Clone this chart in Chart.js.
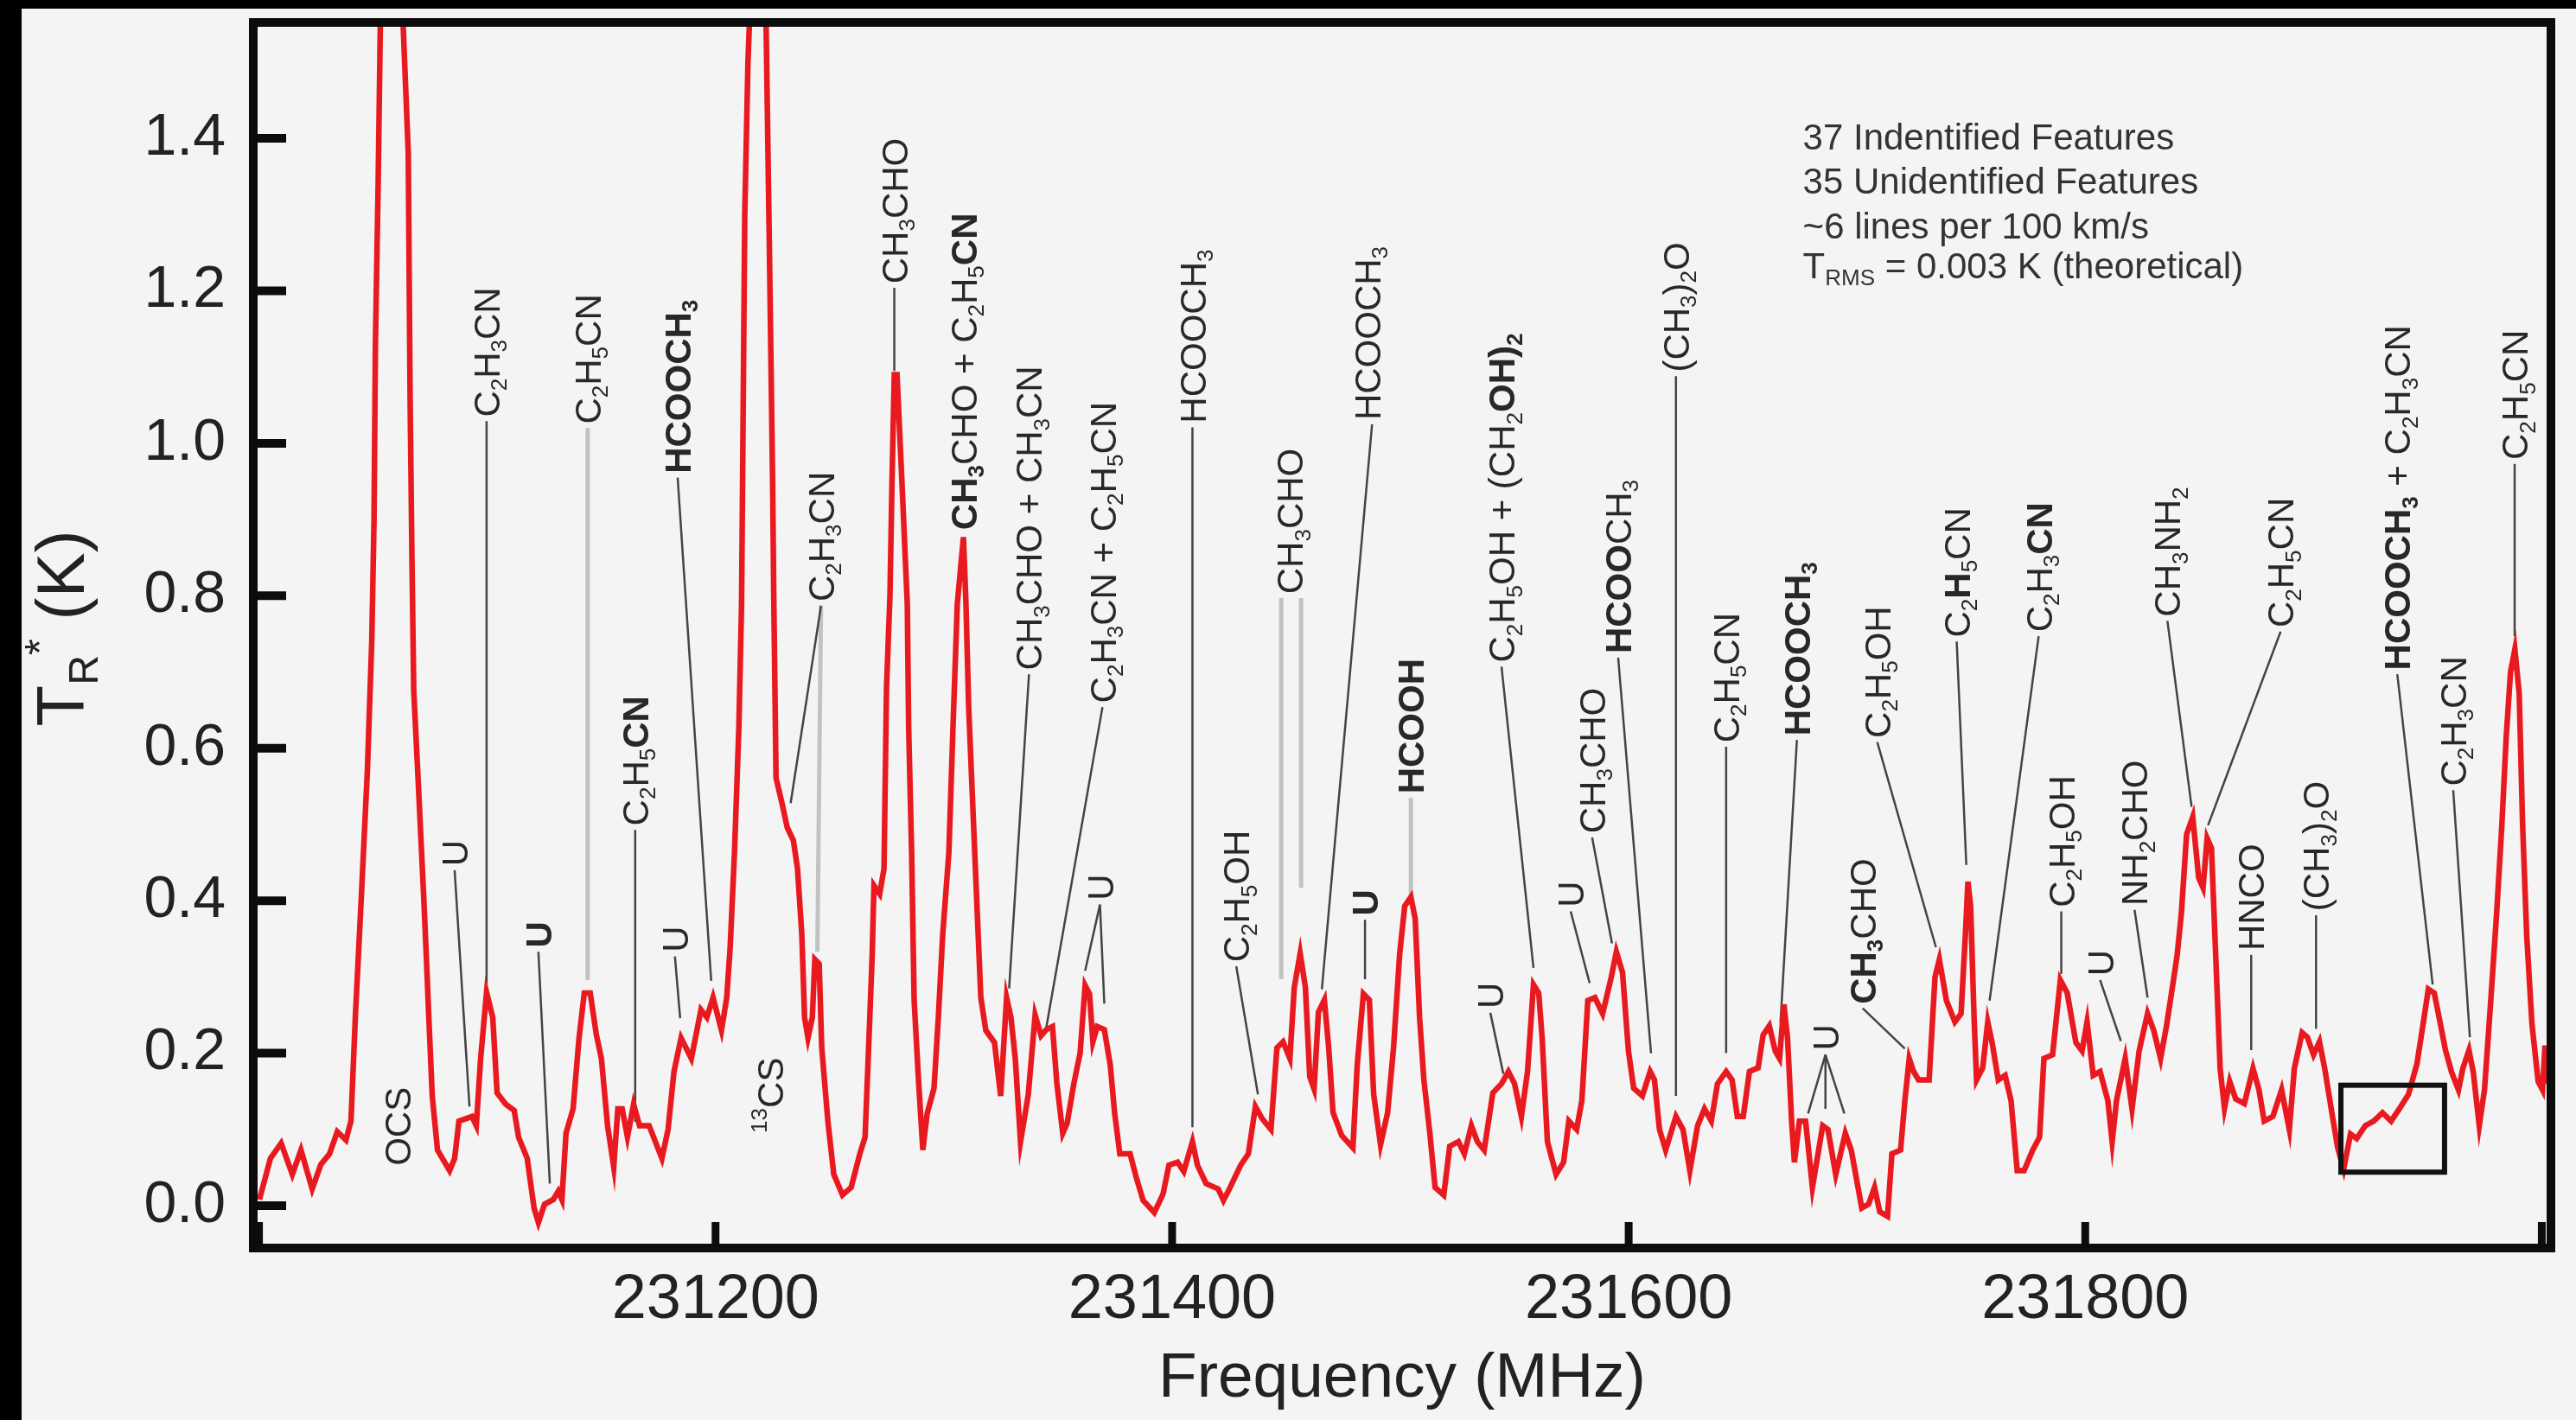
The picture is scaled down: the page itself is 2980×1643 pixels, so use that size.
<!DOCTYPE html>
<html>
<head>
<meta charset="utf-8">
<script src="https://cdn.jsdelivr.net/npm/chart.js@4.4.1/dist/chart.umd.min.js"></script>
<style>
  html, body { margin: 0; padding: 0; background: #f4f4f4; }
  canvas { display: block; }
</style>
</head>
<body>
<canvas id="spectrum" width="2980" height="1643"></canvas>
<script>
// spectrum (MHz, K)
const freqMHz = [
  231000.2, 231005.0, 231009.7, 231014.6, 231018.4, 231023.3, 231027.1, 231030.9, 231034.3, 231038.1,
  231040.3, 231042.2, 231044.9, 231047.5, 231049.4, 231050.4, 231051.0, 231052.2, 231053.2, 231058.0,
  231063.0, 231065.4, 231066.2, 231067.0, 231067.8, 231069.5, 231072.1, 231073.3, 231074.4, 231075.9,
  231078.2, 231083.5, 231085.7, 231087.6, 231093.3, 231095.2, 231097.1, 231099.7, 231102.4, 231104.3,
  231108.1, 231111.8, 231113.7, 231117.5, 231120.5, 231122.4, 231125.1, 231128.9, 231131.1, 231132.7,
  231134.5, 231137.6, 231140.2, 231142.5, 231145.1, 231147.8, 231150.0, 231152.7, 231155.4, 231157.2,
  231159.1, 231161.4, 231164.1, 231166.7, 231170.9, 231176.5, 231179.2, 231181.8, 231184.9, 231189.4,
  231193.6, 231196.2, 231198.9, 231202.6, 231204.9, 231206.4, 231208.3, 231210.2, 231211.4, 231212.8,
  231214.2, 231215.2, 231219.0, 231222.0, 231223.8, 231225.0, 231225.5, 231226.5, 231229.1, 231231.4,
  231234.1, 231235.9, 231237.8, 231239.0, 231240.5, 231242.4, 231243.5, 231245.4, 231246.5, 231249.2,
  231251.8, 231255.6, 231259.4, 231263.2, 231265.5, 231267.0, 231268.6, 231269.4, 231271.9, 231273.8,
  231274.9, 231276.4, 231277.3, 231278.3, 231279.5, 231281.7, 231284.0, 231284.6, 231285.9, 231287.0,
  231288.9, 231290.8, 231292.7, 231295.7, 231297.6, 231299.5, 231302.2, 231304.0, 231305.9, 231308.6,
  231309.7, 231310.9, 231312.4, 231314.3, 231316.2, 231318.4, 231322.2, 231324.9, 231327.5, 231329.4,
  231331.3, 231333.6, 231337.0, 231340.0, 231342.6, 231344.9, 231347.6, 231349.5, 231352.1, 231354.0,
  231357.0, 231359.7, 231361.9, 231363.8, 231365.3, 231367.2, 231370.3, 231372.9, 231374.8, 231377.1,
  231381.6, 231384.3, 231387.3, 231392.2, 231396.0, 231398.6, 231402.4, 231405.1, 231408.9, 231411.1,
  231414.9, 231420.2, 231422.5, 231425.1, 231430.0, 231433.4, 231436.5, 231439.5, 231443.3, 231445.9,
  231448.6, 231451.6, 231453.5, 231456.1, 231458.4, 231460.3, 231462.2, 231464.1, 231466.7, 231468.6,
  231470.5, 231474.3, 231479.2, 231481.1, 231483.8, 231486.4, 231488.3, 231491.3, 231494.4, 231497.0,
  231499.7, 231501.9, 231504.6, 231506.5, 231508.4, 231510.3, 231512.9, 231515.2, 231519.0, 231521.6,
  231525.4, 231528.0, 231531.1, 231533.7, 231536.7, 231540.5, 231544.3, 231547.3, 231550.0, 231553.0,
  231555.7, 231558.3, 231560.6, 231562.1, 231564.4, 231568.2, 231571.5, 231573.8, 231577.2, 231579.5,
  231582.1, 231585.2, 231588.6, 231592.4, 231594.6, 231597.3, 231599.9, 231602.2, 231606.0, 231609.4,
  231611.3, 231613.5, 231616.2, 231620.7, 231623.8, 231626.8, 231630.2, 231633.2, 231636.2, 231638.9,
  231642.7, 231645.3, 231647.6, 231650.2, 231652.9, 231656.7, 231658.9, 231661.6, 231664.2, 231666.1,
  231668.0, 231669.6, 231671.4, 231672.6, 231674.8, 231677.5, 231680.5, 231685.0, 231687.3, 231690.7,
  231694.9, 231697.5, 231702.1, 231705.1, 231707.7, 231710.0, 231713.4, 231715.3, 231719.1, 231721.0,
  231722.9, 231724.8, 231727.0, 231731.6, 231734.2, 231736.1, 231739.2, 231742.9, 231745.6, 231747.5,
  231748.6, 231749.8, 231751.3, 231752.4, 231755.1, 231757.3, 231759.2, 231761.9, 231764.9, 231767.5,
  231770.2, 231773.2, 231777.0, 231780.0, 231781.9, 231785.7, 231789.1, 231792.1, 231795.9, 231798.6,
  231800.8, 231803.5, 231806.5, 231809.9, 231811.8, 231813.7, 231817.5, 231820.5, 231823.6, 231827.3,
  231830.0, 231833.0, 231835.6, 231837.5, 231840.2, 231842.1, 231844.4, 231847.1, 231849.7, 231851.6,
  231853.4, 231855.3, 231857.2, 231859.1, 231861.0, 231863.3, 231865.9, 231869.7, 231873.5, 231876.1,
  231878.4, 231882.2, 231886.0, 231889.4, 231891.6, 231895.0, 231897.3, 231900.0, 231902.6, 231904.9,
  231908.3, 231910.6, 231913.2, 231916.2, 231918.9, 231922.7, 231926.4, 231930.2, 231934.0, 231937.8,
  231941.6, 231945.3, 231948.0, 231950.3, 231952.9, 231955.6, 231957.8, 231960.5, 231963.5, 231965.4,
  231968.1, 231970.0, 231972.6, 231974.9, 231977.6, 231980.2, 231982.5, 231984.4, 231986.3, 231988.2,
  231990.1, 231991.6, 231993.4, 231995.7, 231998.4, 232000.3, 232001.4, 232003.0
];
const tempK = [
  0.008, 0.062, 0.082, 0.041, 0.073, 0.022, 0.054, 0.068, 0.097, 0.086,
  0.111, 0.247, 0.409, 0.572, 0.740, 0.900, 1.130, 1.340, 1.560, 2.600,
  1.560, 1.380, 1.060, 0.850, 0.675, 0.572, 0.409, 0.327, 0.247, 0.144,
  0.073, 0.046, 0.062, 0.111, 0.117, 0.105, 0.193, 0.280, 0.247, 0.148,
  0.133, 0.125, 0.090, 0.062, -0.003, -0.022, 0.002, 0.008, 0.019, 0.008,
  0.095, 0.127, 0.220, 0.279, 0.279, 0.224, 0.193, 0.105, 0.051, 0.127,
  0.127, 0.090, 0.133, 0.105, 0.105, 0.062, 0.100, 0.176, 0.220, 0.193,
  0.257, 0.247, 0.273, 0.230, 0.273, 0.339, 0.463, 0.626, 0.789, 1.300,
  1.500, 1.580, 2.500, 1.580, 1.210, 0.950, 0.800, 0.561, 0.528, 0.496,
  0.479, 0.442, 0.355, 0.247, 0.220, 0.247, 0.323, 0.317, 0.208, 0.111,
  0.041, 0.014, 0.024, 0.068, 0.090, 0.203, 0.327, 0.420, 0.409, 0.442,
  0.680, 0.800, 0.950, 1.090, 1.090, 0.946, 0.789, 0.626, 0.463, 0.269,
  0.165, 0.073, 0.121, 0.154, 0.247, 0.355, 0.463, 0.626, 0.789, 0.877,
  0.789, 0.653, 0.545, 0.409, 0.273, 0.230, 0.214, 0.144, 0.273, 0.247,
  0.193, 0.084, 0.146, 0.250, 0.223, 0.231, 0.235, 0.161, 0.095, 0.108,
  0.161, 0.200, 0.289, 0.278, 0.215, 0.235, 0.231, 0.185, 0.122, 0.068,
  0.068, 0.037, 0.007, -0.009, 0.015, 0.053, 0.057, 0.045, 0.084, 0.053,
  0.029, 0.022, 0.007, 0.022, 0.053, 0.068, 0.130, 0.114, 0.100, 0.207,
  0.215, 0.193, 0.286, 0.331, 0.286, 0.169, 0.153, 0.254, 0.270, 0.207,
  0.122, 0.092, 0.076, 0.185, 0.278, 0.270, 0.146, 0.080, 0.122, 0.207,
  0.331, 0.393, 0.405, 0.376, 0.247, 0.165, 0.095, 0.024, 0.014, 0.078,
  0.084, 0.068, 0.105, 0.084, 0.073, 0.148, 0.160, 0.176, 0.160, 0.117,
  0.176, 0.290, 0.279, 0.220, 0.084, 0.041, 0.057, 0.111, 0.100, 0.138,
  0.269, 0.273, 0.252, 0.300, 0.333, 0.306, 0.203, 0.154, 0.144, 0.176,
  0.165, 0.100, 0.073, 0.117, 0.100, 0.046, 0.105, 0.127, 0.111, 0.160,
  0.176, 0.165, 0.117, 0.117, 0.176, 0.181, 0.224, 0.236, 0.203, 0.193,
  0.264, 0.220, 0.110, 0.057, 0.111, 0.111, 0.024, 0.105, 0.100, 0.041,
  0.095, 0.073, -0.003, 0.002, 0.024, -0.008, -0.014, 0.068, 0.073, 0.138,
  0.193, 0.176, 0.165, 0.165, 0.300, 0.323, 0.269, 0.241, 0.252, 0.355,
  0.425, 0.393, 0.247, 0.165, 0.181, 0.241, 0.214, 0.165, 0.171, 0.138,
  0.046, 0.046, 0.073, 0.090, 0.193, 0.198, 0.296, 0.279, 0.214, 0.203,
  0.241, 0.171, 0.176, 0.138, 0.084, 0.138, 0.193, 0.127, 0.203, 0.252,
  0.230, 0.193, 0.236, 0.273, 0.327, 0.383, 0.487, 0.510, 0.430, 0.417,
  0.482, 0.469, 0.325, 0.180, 0.128, 0.163, 0.140, 0.134, 0.180, 0.152,
  0.111, 0.117, 0.152, 0.100, 0.180, 0.227, 0.221, 0.198, 0.215, 0.180,
  0.117, 0.076, 0.048, 0.094, 0.088, 0.105, 0.111, 0.122, 0.111, 0.128,
  0.146, 0.186, 0.238, 0.284, 0.279, 0.238, 0.204, 0.175, 0.152, 0.180,
  0.204, 0.175, 0.105, 0.152, 0.267, 0.383, 0.499, 0.614, 0.700, 0.730,
  0.672, 0.499, 0.354, 0.238, 0.163, 0.152, 0.210, 0.160
];

const xTickValues = [231000, 231200, 231400, 231600, 231800, 232000];
const xLabelTicks = [231200, 231400, 231600, 231800];
const yTickValues = [0, 0.2, 0.4, 0.6, 0.8, 1.0, 1.2, 1.4];

// line identifications: text (*bold*, _sub, ^sup), frequency, temperature at text foot
const labelText = [
  'OCS', 'U', 'C_2H_3CN', '*U*', 'C_2H_5CN', 'C_2H_5*CN*', 'U', '*HCOOCH_3*', '^{13}CS', 'C_2H_3CN',
  'CH_3CHO', '*CH_3*CHO + C_2H_5*CN*', 'CH_3CHO + CH_3CN', 'C_2H_3CN + C_2H_5CN', 'U', 'HCOOCH_3',
  'C_2H_5OH', 'CH_3CHO', 'HCOOCH_3', '*U*', '*HCOOH*', 'U', 'C_2H_5OH + (CH_2*OH)_2*', 'U', 'CH_3CHO',
  '*HCOO*CH_3', '(CH_3)_2O', 'C_2H_5CN', '*HCOOCH_3*', 'U', '*CH_3*CHO', 'C_2H_5OH', 'C_2*H*_5CN',
  'C_2H_3*CN*', 'C_2H_5OH', 'U', 'NH_2CHO', 'CH_3NH_2', 'C_2H_5CN', 'HNCO', '(CH_3)_2O',
  '*HCOOCH_3* + C_2H_3CN', 'C_2H_3CN', 'C_2H_5CN'
];
const labelFreq = [
  231060.8, 231085.7, 231099.7, 231122.4, 231144.0, 231164.8, 231182.2, 231183.4, 231223.8, 231246.2,
  231278.3, 231308.6, 231337.3, 231369.5, 231368.4, 231408.9,
  231428.1, 231451.6, 231485.5, 231484.5, 231504.6, 231539.4, 231544.3, 231574.6, 231584.0,
  231595.4, 231620.7, 231642.7, 231673.7, 231686.2, 231702.5, 231708.9, 231743.7,
  231779.6, 231789.5, 231806.5, 231821.6, 231836.0, 231885.6, 231872.7, 231901.1,
  231936.7, 231961.2, 231988.1
];
const labelTemp = [
  0.049, 0.442, 1.031, 0.335, 1.022, 0.495, 0.329, 0.957, 0.092, 0.789,
  1.206, 0.883, 0.699, 0.656, 0.397, 1.023,
  0.316, 0.799, 1.027, 0.377, 0.537, 0.255, 0.709, 0.388, 0.485,
  0.721, 1.090, 0.604, 0.613, 0.200, 0.261, 0.610, 0.742,
  0.749, 0.388, 0.298, 0.390, 0.769, 0.755, 0.331, 0.383,
  0.699, 0.547, 0.975
];
// leader lines [f1, T1, f2, T2]
const leaderLines = [
  [231085.7, 0.440, 231092.2, 0.130], [231099.7, 1.029, 231099.7, 0.291], [231122.4, 0.333, 231127.4, 0.029],
  [231164.8, 0.493, 231164.8, 0.110], [231182.2, 0.327, 231184.5, 0.246], [231183.4, 0.955, 231198.1, 0.295],
  [231246.2, 0.787, 231232.9, 0.528], [231278.3, 1.204, 231278.3, 1.095], [231337.3, 0.697, 231328.6, 0.285],
  [231369.5, 0.654, 231344.5, 0.227], [231368.4, 0.395, 231361.9, 0.308], [231368.4, 0.395, 231370.3, 0.265],
  [231408.9, 1.021, 231408.9, 0.103], [231428.1, 0.314, 231437.6, 0.146], [231487.6, 1.025, 231465.6, 0.284],
  [231484.5, 0.375, 231484.5, 0.297], [231539.4, 0.253, 231545.1, 0.173], [231544.3, 0.707, 231558.3, 0.312],
  [231574.6, 0.386, 231582.9, 0.292], [231584.0, 0.483, 231592.7, 0.344], [231595.4, 0.719, 231609.8, 0.200],
  [231620.7, 1.088, 231620.7, 0.144], [231642.7, 0.602, 231642.7, 0.200], [231673.7, 0.611, 231666.5, 0.240],
  [231686.2, 0.198, 231678.6, 0.121], [231686.2, 0.198, 231686.2, 0.127], [231686.2, 0.198, 231694.5, 0.121],
  [231702.5, 0.259, 231721.0, 0.206], [231708.9, 0.608, 231734.6, 0.339], [231743.7, 0.740, 231747.9, 0.447],
  [231779.6, 0.747, 231758.1, 0.269], [231789.5, 0.386, 231789.5, 0.304], [231806.5, 0.296, 231815.6, 0.216],
  [231821.6, 0.388, 231827.3, 0.273], [231836.0, 0.767, 231846.6, 0.523], [231885.6, 0.753, 231853.8, 0.499],
  [231872.7, 0.329, 231872.7, 0.204], [231901.1, 0.381, 231901.1, 0.232], [231936.7, 0.697, 231952.2, 0.290],
  [231961.2, 0.545, 231968.5, 0.221], [231988.1, 0.973, 231988.1, 0.747]
];
const grayLines = [
  [231144.0, 1.020, 231144.0, 0.296], [231246.2, 0.787, 231244.6, 0.333],
  [231447.8, 0.797, 231447.8, 0.297], [231456.5, 0.797, 231456.5, 0.417],
  [231504.6, 0.535, 231504.6, 0.409]
];
// zoom box [f1, T1, f2, T2]
const zoomBox = [231912.0, 0.158, 231957.4, 0.044];
const noteLines = [
  '37 Indentified Features',
  '35 Unidentified Features',
  '~6 lines per 100 km/s',
  'T_{RMS} = 0.003 K (theoretical)'
];
const noteFreq = 231676.3;
const noteTemp = [1.385, 1.327, 1.269, 1.217];

const FONT = '"Liberation Sans", Arial, Helvetica, sans-serif';
const INK = '#222';
const LABEL_SIZE = 42;

function richRuns(str) {
  const runs = [];
  let bold = false, i = 0;
  while (i < str.length) {
    const c = str[i];
    if (c === '*') { bold = !bold; i++; continue; }
    if (c === '_' || c === '^') {
      let s = '', j = i + 1;
      if (str[j] === '{') {
        j++;
        while (j < str.length && str[j] !== '}') s += str[j++];
        j++;
      } else {
        while (j < str.length && /\d/.test(str[j])) s += str[j++];
      }
      runs.push({ s, bold, kind: c });
      i = j;
      continue;
    }
    let s = '';
    while (i < str.length && !'*_^'.includes(str[i])) s += str[i++];
    runs.push({ s, bold, kind: '' });
  }
  return runs;
}

function drawRich(ctx, str, x0, y0, size, draw = true) {
  let x = x0;
  richRuns(str).forEach(r => {
    const fs = r.kind ? size * 0.62 : size;
    ctx.font = (r.bold ? 'bold ' : '') + fs + 'px ' + FONT;
    const dy = r.kind === '_' ? size * 0.2 : r.kind === '^' ? -size * 0.45 : 0;
    if (draw) ctx.fillText(r.s, x, y0 + dy);
    x += ctx.measureText(r.s).width;
  });
  return x - x0;
}

function fixX(scale) {
  scale.height = 199;
  scale.paddingLeft = scale.paddingRight = 0;
}
function fixY(scale) {
  scale.width = 293;
  scale.paddingTop = scale.paddingBottom = 0;
}

const decor = {
  id: 'decor',
  beforeDraw(chart) {
    const { ctx, width, height } = chart;
    ctx.save();
    ctx.fillStyle = '#f4f4f4';
    ctx.fillRect(0, 0, width, height);
    ctx.fillStyle = '#000';
    ctx.fillRect(0, 0, 25, height);
    ctx.fillRect(0, 0, width, 10);
    ctx.restore();
  },
  beforeDatasetsDraw(chart) {
    const { ctx, scales: { x, y } } = chart;
    ctx.save();
    ctx.strokeStyle = '#c2c2c2';
    ctx.lineWidth = 5;
    grayLines.forEach(l => {
      ctx.beginPath();
      ctx.moveTo(x.getPixelForValue(l[0]), y.getPixelForValue(l[1]));
      ctx.lineTo(x.getPixelForValue(l[2]), y.getPixelForValue(l[3]));
      ctx.stroke();
    });
    ctx.strokeStyle = '#444';
    ctx.lineWidth = 2.5;
    leaderLines.forEach(l => {
      ctx.beginPath();
      ctx.moveTo(x.getPixelForValue(l[0]), y.getPixelForValue(l[1]));
      ctx.lineTo(x.getPixelForValue(l[2]), y.getPixelForValue(l[3]));
      ctx.stroke();
    });

    ctx.fillStyle = '#282828';
    ctx.textBaseline = 'alphabetic';
    ctx.textAlign = 'left';
    labelText.forEach((t, i) => {
      ctx.save();
      ctx.translate(x.getPixelForValue(labelFreq[i]), y.getPixelForValue(labelTemp[i]));
      ctx.rotate(-Math.PI / 2);
      drawRich(ctx, t, 3, LABEL_SIZE * 0.36, LABEL_SIZE);
      ctx.restore();
    });

    ctx.fillStyle = '#333';
    noteLines.forEach((t, i) => {
      drawRich(ctx, t, x.getPixelForValue(noteFreq), y.getPixelForValue(noteTemp[i]), 42);
    });
    ctx.restore();
  },
  afterDatasetsDraw(chart) {
    const { ctx, chartArea: a, scales: { x, y } } = chart;
    ctx.save();
    // zoom box
    ctx.strokeStyle = '#111';
    ctx.lineWidth = 6;
    const bx1 = x.getPixelForValue(zoomBox[0]), by1 = y.getPixelForValue(zoomBox[1]);
    const bx2 = x.getPixelForValue(zoomBox[2]), by2 = y.getPixelForValue(zoomBox[3]);
    ctx.strokeRect(bx1, by1, bx2 - bx1, by2 - by1);

    // frame
    ctx.strokeStyle = '#0c0c0c';
    ctx.lineWidth = 10;
    ctx.strokeRect(a.left, a.top, a.right - a.left, a.bottom - a.top);

    // inward ticks
    ctx.lineWidth = 10;
    y.ticks.forEach(t => {
      const py = y.getPixelForValue(t.value);
      ctx.beginPath();
      ctx.moveTo(a.left, py);
      ctx.lineTo(a.left + 38, py);
      ctx.stroke();
    });
    ctx.lineWidth = 9;
    x.ticks.forEach(t => {
      const px = x.getPixelForValue(t.value);
      ctx.beginPath();
      ctx.moveTo(px, a.bottom);
      ctx.lineTo(px, a.bottom - 30);
      ctx.stroke();
    });

    // axis titles
    ctx.fillStyle = INK;
    ctx.textBaseline = 'alphabetic';
    ctx.font = '73px ' + FONT;
    ctx.textAlign = 'center';
    ctx.fillText('Frequency (MHz)', (a.left + a.right) / 2, a.bottom + 172);

    ctx.textAlign = 'left';
    const ttl = 'T_{R}^{*} (K)';
    const w = drawRich(ctx, ttl, 0, 0, 78, false);
    ctx.translate(97, (a.top + a.bottom) / 2 + w / 2 - 8);
    ctx.rotate(-Math.PI / 2);
    drawRich(ctx, ttl, 0, 0, 78);
    ctx.restore();
  }
};

new Chart(document.getElementById('spectrum').getContext('2d'), {
  type: 'line',
  data: {
    datasets: [{
      data: freqMHz.map((f, i) => ({ x: f, y: tempK[i] })),
      borderColor: '#e8191f',
      borderWidth: 6.5,
      pointRadius: 0,
      tension: 0,
      fill: false,
      clip: 0
    }]
  },
  options: {
    responsive: false,
    animation: false,
    devicePixelRatio: 1,
    layout: { padding: { top: 26, right: 29, left: 0, bottom: 0 } },
    plugins: { legend: { display: false }, tooltip: { enabled: false } },
    scales: {
      x: {
        type: 'linear',
        min: 230997.5,
        max: 232004,
        afterBuildTicks: s => { s.ticks = xTickValues.map(v => ({ value: v })); },
        afterFit: fixX,
        grid: { drawOnChartArea: false, drawTicks: false },
        border: { display: false },
        ticks: {
          autoSkip: false,
          maxRotation: 0,
          padding: 18,
          color: INK,
          font: { size: 72, family: FONT },
          callback: v => xLabelTicks.includes(v) ? String(v) : ''
        }
      },
      y: {
        min: -0.0555,
        max: 1.552,
        afterBuildTicks: s => { s.ticks = yTickValues.map(v => ({ value: v })); },
        afterFit: fixY,
        grid: { drawOnChartArea: false, drawTicks: false },
        border: { display: false },
        ticks: {
          autoSkip: false,
          padding: 32,
          color: INK,
          font: { size: 68, family: FONT },
          callback: v => v.toFixed(1)
        }
      }
    }
  },
  plugins: [decor]
});
</script>
</body>
</html>
